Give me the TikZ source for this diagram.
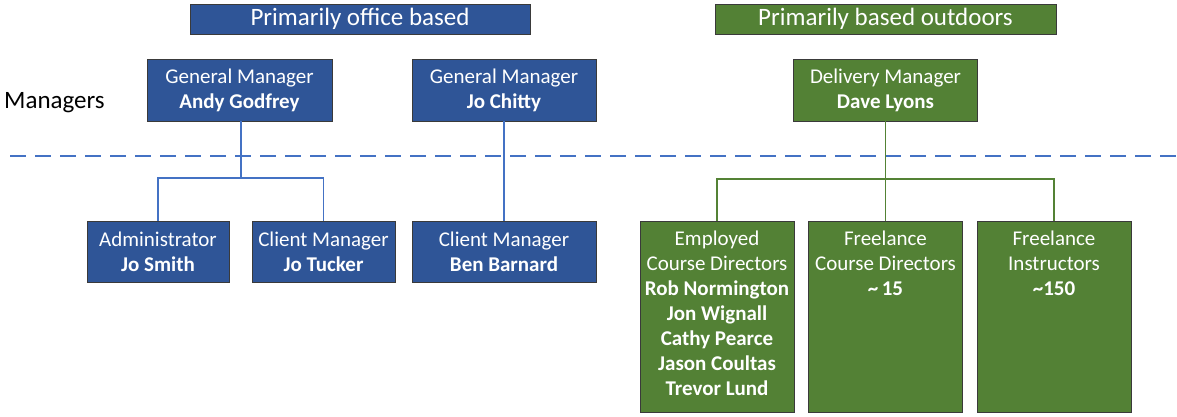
\documentclass[tikz,border=0pt]{standalone}
\usepackage{fontspec}
\setmainfont{Carlito}
\definecolor{officeblue}{HTML}{2F5597}
\definecolor{outdoorgreen}{HTML}{538135}
\definecolor{linkblue}{HTML}{4472C4}
\definecolor{linkgreen}{HTML}{548235}
\definecolor{edge}{HTML}{3A3A3A}
\begin{document}
\begin{tikzpicture}[
  x=1pt, y=1pt,
  banner/.style={draw=edge, line width=0.8pt, text=white, minimum height=30pt,
    inner sep=0pt, font=\fontsize{25}{28}\selectfont},
  box/.style={draw=edge, line width=0.8pt, text=white, inner sep=0pt,
    align=center, font=\fontsize{21}{25}\selectfont},
  bluebox/.style={box, fill=officeblue, minimum height=62pt},
  greenbox/.style={box, fill=outdoorgreen, minimum height=191pt, minimum width=154pt},
  boxtext/.style={text=white, align=center, inner sep=0pt,
    font=\fontsize{21}{25}\selectfont},
  bluelink/.style={draw=linkblue, line width=1.8pt},
  greenlink/.style={draw=linkgreen, line width=1.8pt},
]
\useasboundingbox[fill=white] (0,0) rectangle (1177,-416);

% section banners
\node[banner, fill=officeblue, minimum width=340pt] (office) at (360,-19) {Primarily office based};
\node[banner, fill=outdoorgreen, minimum width=341pt] (outdoor) at (885.5,-19) {Primarily based outdoors};

% row label and divider
\node[anchor=west, inner sep=0pt, font=\fontsize{25}{28}\selectfont] (mgrlabel) at (4,-103) {Managers};
\coordinate (divL) at (10,-156);
\coordinate (divR) at (1177,-156);
\draw[draw=linkblue, line width=1.8pt, dash pattern=on 16pt off 9pt] (divL) -- (divR);

% managers
\node[bluebox, minimum width=185pt] (andy) at (239.5,-90) {General Manager\\\textbf{Andy Godfrey}};
\node[bluebox, minimum width=184pt] (chitty) at (504,-90) {General Manager\\\textbf{Jo Chitty}};
\node[box, fill=outdoorgreen, minimum height=62pt, minimum width=184pt] (dave) at (885.5,-90) {Delivery Manager\\\textbf{Dave Lyons}};

% office staff
\node[bluebox, minimum height=61pt, minimum width=142pt] (admin) at (158,-252) {Administrator\\\textbf{Jo Smith}};
\node[bluebox, minimum height=61pt, minimum width=143pt] (tucker) at (323.5,-252) {Client Manager\\\textbf{Jo Tucker}};
\node[bluebox, minimum height=61pt, minimum width=184pt] (ben) at (504,-252) {Client Manager\\\textbf{Ben Barnard}};

% outdoor staff
\node[greenbox] (employed) at (717,-316.5) {};
\node[greenbox] (freecd) at (885.5,-316.5) {};
\node[greenbox] (instr) at (1054,-316.5) {};
\node[boxtext, anchor=north] (employedtxt) at ([yshift=-10pt]employed.north)
  {Employed\\Course Directors\\\textbf{Rob Normington}\\\textbf{Jon Wignall}\\\textbf{Cathy Pearce}\\\textbf{Jason Coultas}\\\textbf{Trevor Lund}};
\node[boxtext, anchor=north] (freecdtxt) at ([yshift=-10pt]freecd.north)
  {Freelance\\Course Directors\\\textbf{\char`\~\,15}};
\node[boxtext, anchor=north] (instrtxt) at ([yshift=-10pt]instr.north)
  {Freelance\\Instructors\\\textbf{\char`\~150}};

% reporting lines
\coordinate (bluebus) at (241,-178);
\draw[bluelink] (andy.south -| bluebus) -- (bluebus) -| (admin.north);
\draw[bluelink] (bluebus) -| (tucker.north);
\draw[bluelink] (chitty.south) -- (ben.north);

\coordinate (greenbus) at (885.5,-179);
\draw[greenlink] (dave.south) -- (greenbus) -| (employed.north);
\draw[greenlink] (greenbus) -| (instr.north);
\draw[greenlink] (greenbus) -- (freecd.north);
\end{tikzpicture}
\end{document}
